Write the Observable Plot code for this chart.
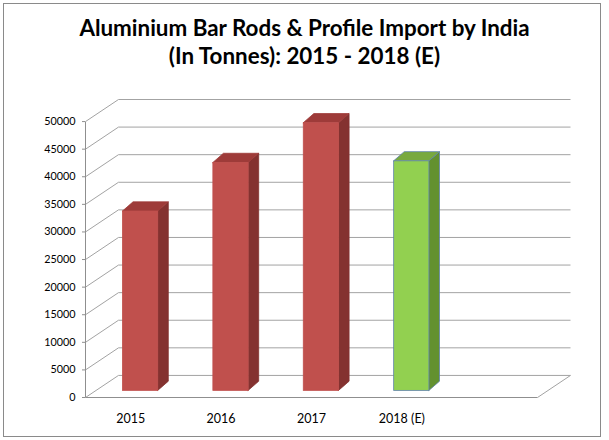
<!DOCTYPE html>
<html><head><meta charset="utf-8">
<script src="https://cdn.jsdelivr.net/npm/d3@7"></script>
<script src="https://cdn.jsdelivr.net/npm/@observablehq/plot@0.6"></script>
<style>
html,body{margin:0;padding:0;background:#fff;}
#frame{position:absolute;left:3px;top:3px;width:598px;height:434px;border:1px solid #8a8a8a;box-sizing:border-box;}
#title{position:absolute;left:0;top:14px;width:609px;text-align:center;font-family:Lato,"Open Sans",sans-serif;font-weight:bold;font-size:22.4px;line-height:28px;color:#000;}
#chart{position:absolute;left:0;top:80px;}
</style>
</head><body>
<div id="frame"></div>
<div id="title">Aluminium Bar Rods &amp; Profile Import by India<br>(In Tonnes): 2015 - 2018 (E)</div>
<div id="chart"></div>
<script>
// ---- data ----
const categories = ["2015", "2016", "2017", "2018 (E)"];
const imports = [32500, 41300, 48500, 41600];
const yTicks = [0, 5000, 10000, 15000, 20000, 25000, 30000, 35000, 40000, 45000, 50000];

// ---- style / geometry ----
const redFaces = {front: "#c0504d", side: "#843230", top: "#9e3b39", stroke: null};
const greenFaces = {front: "#92d050", side: "#63912f", top: "#78a93e", stroke: "#5f83a8"};
const gridColor = "#a3a3a3";
const nSlots = categories.length + 1;   // floor extends one empty slot
const DX = 0.365, DY = 4000;            // depth of the 3D box in data units
const BAR_HALF = 0.195, D_FRONT = 0.3, D_BACK = 0.62, BAR_TILT = 1.3;
const yMax = yTicks[yTicks.length - 1];

// project a point of a bar at depth d
const px = (x, d) => x + d * DX;
const py = (v, d) => v + D_FRONT * DY + (d - D_FRONT) * DY * BAR_TILT;

const bars = categories.map((c, i) => {
  const est = c.includes("(E)");
  return {c, i, v: imports[i], faces: est ? greenFaces : redFaces,
          xl: i + 0.5 - BAR_HALF, xr: i + 0.5 + BAR_HALF};
});
const sidePts = bars.flatMap(b => [D_FRONT, D_BACK].map(d => ({
  key: b.c, fill: b.faces.side, stroke: b.faces.stroke || b.faces.side,
  x: px(b.xr, d), y1: py(0, d), y2: py(b.v, d)})));
const topPts = bars.flatMap(b => [D_FRONT, D_BACK].map(d => ({
  key: b.c, fill: b.faces.top, stroke: b.faces.stroke || b.faces.top,
  y: py(b.v, d), x1: px(b.xl, d), x2: px(b.xr, d)})));

const chart = Plot.plot({
  width: 609, height: 360,
  marginLeft: 85, marginRight: 39, marginTop: 19, marginBottom: 43,
  x: {domain: [0, nSlots + DX], axis: null},
  y: {domain: [0, yMax + DY], axis: null},
  color: {type: "identity"},
  style: {fontFamily: "Lato, 'Open Sans', sans-serif", background: "transparent"},
  marks: [
    // back wall gridlines
    Plot.link(yTicks, {x1: DX, x2: nSlots + DX, y1: t => t + DY, y2: t => t + DY, stroke: gridColor}),
    // left wall diagonals
    Plot.link(yTicks, {x1: 0, x2: DX, y1: t => t, y2: t => t + DY, stroke: gridColor}),
    // floor front edge and right edge
    Plot.link([0], {x1: 0, x2: nSlots, y1: 0, y2: 0, stroke: "#8f8f8f"}),
    Plot.link([0], {x1: nSlots, x2: nSlots + DX, y1: 0, y2: DY, stroke: gridColor}),
    // vertical value axis line
    Plot.link([0], {x1: 0, x2: 0, y1: 0, y2: yMax, stroke: "#8f8f8f"}),
    Plot.axisY({ticks: yTicks, tickSize: 3, tickPadding: 7, stroke: "#8f8f8f", fill: "#000",
                fontSize: 10.8, tickFormat: d3.format("d"), label: null}),
    // bars: side, top, front
    Plot.areaY(sidePts, {x: "x", y1: "y1", y2: "y2", z: "key", fill: "fill", stroke: "stroke", strokeWidth: 0.8}),
    Plot.areaX(topPts, {y: "y", x1: "x1", x2: "x2", z: "key", fill: "fill", stroke: "stroke", strokeWidth: 0.8}),
    Plot.rect(bars, {x1: b => px(b.xl, D_FRONT), x2: b => px(b.xr, D_FRONT),
                     y1: py(0, D_FRONT), y2: b => py(b.v, D_FRONT),
                     fill: b => b.faces.front, stroke: b => b.faces.stroke || b.faces.front, strokeWidth: 0.8}),
    // category labels
    Plot.text(bars, {x: b => b.i + 0.5, y: 0, dy: 21, text: "c", fontSize: 12.5, fill: "#000"})
  ]
});
document.getElementById("chart").appendChild(chart);
</script>
</body></html>
